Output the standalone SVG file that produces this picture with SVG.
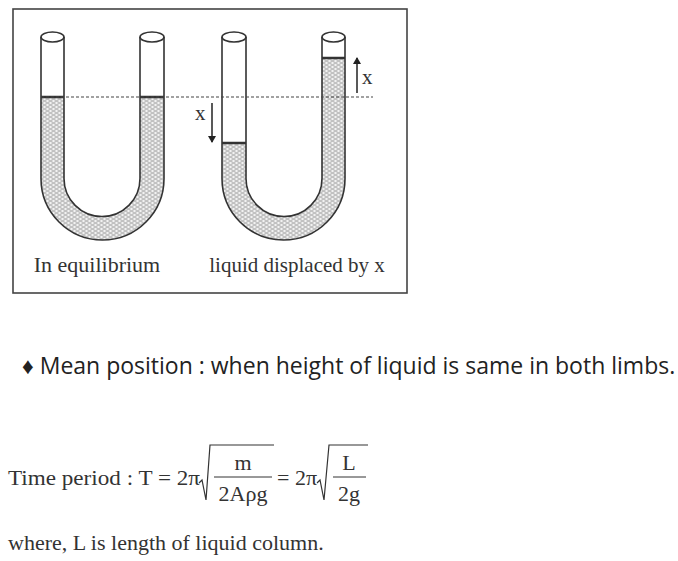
<svg xmlns="http://www.w3.org/2000/svg" width="678" height="561" viewBox="0 0 678 561">
<defs>
<pattern id="liq" width="6" height="4" patternUnits="userSpaceOnUse">
<rect width="6" height="4" fill="#f2f2f2"/>
<line x1="0.5" y1="1" x2="4.5" y2="1" stroke="#777" stroke-width="0.8"/>
<line x1="3.5" y1="3" x2="7.5" y2="3" stroke="#777" stroke-width="0.8"/>
<line x1="-2.5" y1="3" x2="1.5" y2="3" stroke="#777" stroke-width="0.8"/>
</pattern>
<marker id="ah" markerWidth="8" markerHeight="8" refX="6" refY="4" orient="auto" markerUnits="userSpaceOnUse"><path d="M0,0 L7,4 L0,8 Z" fill="#222"/></marker>
</defs>
<style>
.t{stroke:#333;stroke-width:1.6;fill:none}
.lv{stroke:#333;stroke-width:2.5}
.s{font-family:"Liberation Serif",serif;fill:#333}
.a{stroke:#222;stroke-width:1.5;fill:none}
</style>
<rect x="13" y="9" width="394" height="284" fill="#fff" stroke="#444" stroke-width="1.6"/>
<g id="u-left">
<path d="M41,97 V178.5 A61.5,61.5 0 0 0 164,178.5 V97 H140 V178.5 A38,38 0 0 1 64,178.5 V97 Z" fill="url(#liq)"/>
<path class="t" d="M41,37 V178.5 A61.5,61.5 0 0 0 164,178.5 V37"/>
<path class="t" d="M64,37 V178.5 A38,38 0 0 0 140,178.5 V37"/>
<ellipse class="t" cx="52.5" cy="37" rx="11.5" ry="5" fill="#fff"/>
<ellipse class="t" cx="152" cy="37" rx="12" ry="5" fill="#fff"/>
<line class="lv" x1="41" y1="97" x2="64" y2="97"/>
<line class="lv" x1="140" y1="97" x2="164" y2="97"/>
<text class="s" x="97" y="272" font-size="22" text-anchor="middle">In equilibrium</text>
</g>
<g id="u-right">
<path d="M222,143 V178.5 A61.5,61.5 0 0 0 345,178.5 V58 H322 V178.5 A38,38 0 0 1 246,178.5 V143 Z" fill="url(#liq)"/>
<path class="t" d="M222,37 V178.5 A61.5,61.5 0 0 0 345,178.5 V37"/>
<path class="t" d="M246,37 V178.5 A38,38 0 0 0 322,178.5 V37"/>
<ellipse class="t" cx="234" cy="37" rx="12" ry="5" fill="#fff"/>
<ellipse class="t" cx="333.5" cy="37" rx="11.5" ry="5" fill="#fff"/>
<line class="lv" x1="222" y1="143" x2="246" y2="143"/>
<line class="lv" x1="322" y1="58" x2="345" y2="58"/>
<text class="s" x="297" y="272" font-size="21" text-anchor="middle">liquid displaced by x</text>
</g>
<g id="connectors">
<line x1="41" y1="97" x2="373" y2="97" stroke="#444" stroke-width="1.2" stroke-dasharray="3,2"/>
<line class="a" x1="357" y1="93" x2="357" y2="58" marker-end="url(#ah)"/>
<line class="a" x1="212" y1="103" x2="212" y2="142" marker-end="url(#ah)"/>
</g>
<text class="s" x="362" y="84" font-size="21">x</text>
<text class="s" x="195" y="120" font-size="21">x</text>
<text x="22" y="374" font-family="'Open Sans',sans-serif" font-size="23" fill="#222">♦ Mean position : when height of liquid is same in both limbs.</text>
<g class="s" font-size="22">
<text x="8" y="485" textLength="192" lengthAdjust="spacingAndGlyphs">Time period : T = 2π</text>
<path d="M199,483 L202,480 L206,500 L210,445 H274" stroke="#333" stroke-width="1.2" fill="none"/>
<text x="243" y="470" text-anchor="middle">m</text>
<line x1="214" y1="477" x2="272" y2="477" stroke="#333" stroke-width="1"/>
<text x="243" y="501" text-anchor="middle">2Aρg</text>
<text x="277" y="485">= 2π</text>
<path d="M317,483 L320,480 L324,500 L329,445 H368" stroke="#333" stroke-width="1.2" fill="none"/>
<text x="349" y="470" text-anchor="middle">L</text>
<line x1="333" y1="477" x2="366" y2="477" stroke="#333" stroke-width="1"/>
<text x="349" y="501" text-anchor="middle">2g</text>
<text x="8" y="550">where, L is length of liquid column.</text>
</g>
</svg>
